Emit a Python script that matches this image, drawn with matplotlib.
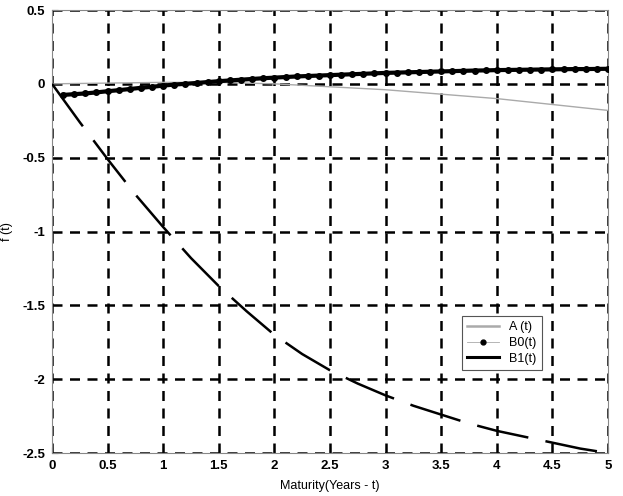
import numpy as np
import matplotlib
matplotlib.use("Agg")
import matplotlib.pyplot as plt

# Data
t_A = [0, 0.5, 1.0, 1.5, 2.0, 2.5, 3.0, 3.5, 4.0, 4.5, 5.0]
A = [0.0, 0.005, 0.01, 0.01, 0.0, -0.02, -0.04, -0.07, -0.10, -0.14, -0.18]

t_B0 = [0.1, 0.2, 0.3, 0.4, 0.5, 0.6, 0.7, 0.8, 0.9, 1.0,
        1.1, 1.2, 1.3, 1.4, 1.5, 1.6, 1.7, 1.8, 1.9, 2.0,
        2.1, 2.2, 2.3, 2.4, 2.5, 2.6, 2.7, 2.8, 2.9, 3.0,
        3.1, 3.2, 3.3, 3.4, 3.5, 3.6, 3.7, 3.8, 3.9, 4.0,
        4.1, 4.2, 4.3, 4.4, 4.5, 4.6, 4.7, 4.8, 4.9, 5.0]
B0 = [-0.075, -0.07, -0.065, -0.058, -0.05, -0.043, -0.035, -0.027, -0.02, -0.012,
      -0.005, 0.0, 0.006, 0.012, 0.018, 0.023, 0.028, 0.033, 0.038, 0.042,
      0.046, 0.050, 0.053, 0.056, 0.059, 0.062, 0.065, 0.068, 0.071, 0.074,
      0.076, 0.078, 0.080, 0.082, 0.084, 0.086, 0.088, 0.090, 0.091, 0.093,
      0.094, 0.095, 0.096, 0.097, 0.098, 0.099, 0.100, 0.100, 0.101, 0.102]

t_B1 = [0, 0.25, 0.5, 0.75, 1.0, 1.25, 1.5, 1.75, 2.0, 2.25, 2.5,
        2.75, 3.0, 3.25, 3.5, 3.75, 4.0, 4.25, 4.5, 4.75, 5.0]
B1 = [0.0, -0.26, -0.51, -0.75, -0.97, -1.18, -1.37, -1.54, -1.70, -1.83, -1.94,
      -2.03, -2.11, -2.18, -2.24, -2.30, -2.35, -2.39, -2.43, -2.47, -2.50]

xticks = [0, 0.5, 1, 1.5, 2, 2.5, 3, 3.5, 4, 4.5, 5]
xticklabels = ["0", "0.5", "1", "1.5", "2", "2.5", "3", "3.5", "4", "4.5", "5"]
yticks = [-2.5, -2, -1.5, -1, -0.5, 0, 0.5]
yticklabels = ["-2.5", "-2", "-1.5", "-1", "-0.5", "0", "0.5"]

plt.rcParams['font.family'] = ['Liberation Sans', 'DejaVu Sans']

fig = plt.figure(figsize=(6.23, 4.96), dpi=100)
ax = fig.add_axes([52/623, 1-453/496, 556/623, 443/496])

ax.plot(t_A, A, color='#aaaaaa', lw=1.0, label='A (t)', zorder=3)
ax.plot(t_B0, B0, color='black', lw=3.0, marker='o', markersize=4,
        label='B0(t)', zorder=4)
ax.plot(t_B1, B1, color='black', lw=1.8, linestyle=(0, (21, 7)),
        label='B1(t)', zorder=4)

ax.set_xlim(0, 5)
ax.set_ylim(-2.5, 0.5)
ax.set_xticks(xticks)
ax.set_xticklabels(xticklabels)
ax.set_yticks(yticks)
ax.set_yticklabels(yticklabels)
ax.grid(True, color='black', linestyle=(0, (4, 3)), linewidth=1.8)
ax.set_axisbelow(True)
for s in ax.spines.values():
    s.set_color('#888888')
    s.set_linewidth(0.8)
ax.tick_params(direction='in', length=4, labelsize=9.5, width=0.8, pad=5)
for lab in ax.get_xticklabels() + ax.get_yticklabels():
    lab.set_fontweight('bold')

ax.set_xlabel('Maturity(Years - t)', fontsize=9, labelpad=6)
ax.set_ylabel('f (t)', fontsize=9)
ax.yaxis.set_label_coords(-0.07, 0.5)

h = [plt.Line2D([], [], color='#aaaaaa', lw=1.8),
     plt.Line2D([], [], color='#aaaaaa', lw=0.6, marker='o', markersize=3.5,
                markerfacecolor='black', markeredgecolor='black'),
     plt.Line2D([], [], color='black', lw=2.2)]
leg = ax.legend(h, ['A (t)', 'B0(t)', 'B1(t)'], loc='lower right',
                bbox_to_anchor=(0.892, 0.174), fontsize=9, fancybox=False,
                framealpha=1, edgecolor='#555555', borderpad=0.4,
                handlelength=2.6, labelspacing=0.3)
leg.get_frame().set_linewidth(0.8)

fig.savefig('out.png', dpi=100)
